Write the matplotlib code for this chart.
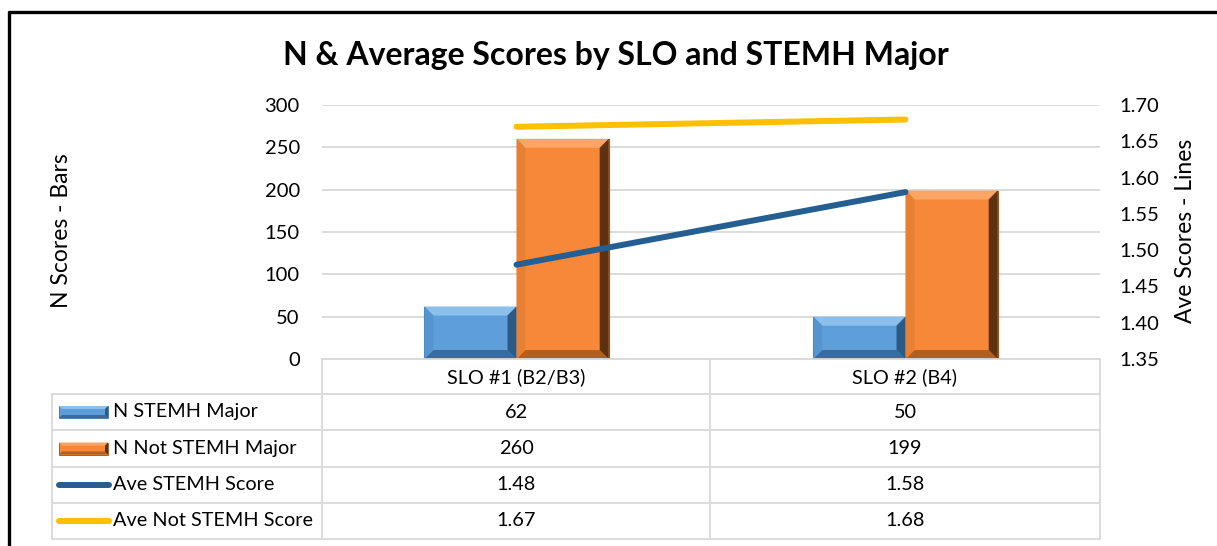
import matplotlib
matplotlib.use("Agg")
import matplotlib.pyplot as plt
from matplotlib.patches import Polygon
from matplotlib.lines import Line2D
import numpy as np

# ---------------- data ----------------
categories = ["SLO #1 (B2/B3)", "SLO #2 (B4)"]
n_stemh = [62, 50]
n_not_stemh = [260, 199]
ave_stemh = [1.48, 1.58]
ave_not_stemh = [1.67, 1.68]
series_names = ["N STEMH Major", "N Not STEMH Major", "Ave STEMH Score", "Ave Not STEMH Score"]
table_values = [["62", "50"], ["260", "199"], ["1.48", "1.58"], ["1.67", "1.68"]]
left_ticks = [0, 50, 100, 150, 200, 250, 300]
right_ticks = [1.35, 1.40, 1.45, 1.50, 1.55, 1.60, 1.65, 1.70]
title = "N & Average Scores by SLO and STEMH Major"
left_label = "N Scores - Bars"
right_label = "Ave Scores - Lines"

FONT = ["Lato", "DejaVu Sans"]
plt.rcParams['font.family'] = FONT

W, H = 1217, 546
fig = plt.figure(figsize=(W / 100, H / 100), dpi=100)


def fx(px):
    return px / W


def fy(py):
    return 1 - py / H


TICK_FS = 14.5
TAB_FS = 14.3

X_L, X_R, Y_B, Y_T = 322, 1100, 359, 105
ax = fig.add_axes([fx(X_L), fy(Y_B), fx(X_R) - fx(X_L), fy(Y_T) - fy(Y_B)])
ax.set_xlim(-0.5, len(categories) - 0.5)
ax.set_ylim(0, 300)
ax.set_yticks(left_ticks)
ax.set_xticks([])
for s in ax.spines.values():
    s.set_visible(False)
ax.tick_params(axis='y', length=0, pad=16, labelsize=TICK_FS, colors='black')
ax.grid(axis='y', color='#D9D9D9', linewidth=1.3)
ax.set_axisbelow(True)

x = np.arange(len(categories))
bw = 0.237

blue = dict(base='#5E9FDA', top='#8DBFEC', left='#5594CF', right='#2C5A86', bottom='#3A6B9C', edge='#41719C')
orange = dict(base='#F7883A', top='#FBA463', left='#E88034', right='#5E3210', bottom='#B3601F', edge='#9A5018')


def bevel_bar(ax, xc, h, col):
    bars = ax.bar([xc], [h], width=bw, color=col['base'], edgecolor=col['edge'], linewidth=0.8, zorder=2)
    fig.canvas.draw()
    X0, Y0 = ax.transData.transform((xc - bw / 2, 0))
    X1, Y1 = ax.transData.transform((xc + bw / 2, h))
    d = 9
    inv = ax.transData.inverted()
    polys = {
        'top': [(X0, Y1), (X1, Y1), (X1 - d, Y1 - d), (X0 + d, Y1 - d)],
        'bottom': [(X0, Y0), (X1, Y0), (X1 - d, Y0 + d), (X0 + d, Y0 + d)],
        'left': [(X0, Y0), (X0, Y1), (X0 + d, Y1 - d), (X0 + d, Y0 + d)],
        'right': [(X1, Y0), (X1, Y1), (X1 - d, Y1 - d), (X1 - d, Y0 + d)],
    }
    for k, pts in polys.items():
        dp = inv.transform(np.array(pts))
        ax.add_patch(Polygon(dp, closed=True, facecolor=col[k], edgecolor='none', zorder=3))
    return bars


for i in range(len(categories)):
    bevel_bar(ax, x[i] - bw / 2, n_stemh[i], blue)
    bevel_bar(ax, x[i] + bw / 2, n_not_stemh[i], orange)

ax2 = ax.twinx()
ax2.set_ylim(1.35, 1.70)
ax2.set_yticks(right_ticks)
ax2.set_yticklabels([f"{t:.2f}" for t in right_ticks])
for s in ax2.spines.values():
    s.set_visible(False)
ax2.tick_params(axis='y', length=0, pad=14, labelsize=TICK_FS, colors='black')
ax2.plot(x, ave_stemh, color='#255E91', linewidth=4.3, solid_capstyle='round', zorder=5)
ax2.plot(x, ave_not_stemh, color='#FFC000', linewidth=4.3, solid_capstyle='round', zorder=5)

# labels
fig.text(fx(616), fy(55), title, ha='center', va='center', fontsize=23, fontweight='bold')
fig.text(fx(62), fy(231), left_label, ha='center', va='center', rotation=90, fontsize=16.5)
fig.text(fx(1185), fy(231), right_label, ha='center', va='center', rotation=90, fontsize=16.5)

# ---------------- data table ----------------
gc = '#D9D9D9'
glw = 1.3
T_L, T_M, T_R = 52, 710, 1100
rows_y = [359, 394, 430, 467, 503, 539]


def hline(y, x0, x1):
    fig.add_artist(Line2D([fx(x0), fx(x1)], [fy(y), fy(y)], color=gc, lw=glw))


def vline(xp, y0, y1):
    fig.add_artist(Line2D([fx(xp), fx(xp)], [fy(y0), fy(y1)], color=gc, lw=glw))


hline(rows_y[0], X_L, T_R)
for y in rows_y[1:]:
    hline(y, T_L, T_R)
vline(X_L, rows_y[0], rows_y[-1])
vline(T_L, rows_y[1], rows_y[-1])
vline(T_M, rows_y[0], rows_y[-1])
vline(T_R, rows_y[0], rows_y[-1])

col_centers = [(X_L + T_M) / 2, (T_M + T_R) / 2]
hy = (rows_y[0] + rows_y[1]) / 2 + 1
for c, name in zip(col_centers, categories):
    fig.text(fx(c), fy(hy), name, ha='center', va='center', fontsize=TAB_FS)

for r, (name, vals) in enumerate(zip(series_names, table_values)):
    yc = (rows_y[r + 1] + rows_y[r + 2]) / 2
    for c, v in zip(col_centers, vals):
        fig.text(fx(c), fy(yc), v, ha='center', va='center', fontsize=TAB_FS)
    fig.text(fx(113), fy(yc), name, ha='left', va='center', fontsize=TAB_FS)

# legend keys
sw_axes = fig.add_axes([0, 0, 1, 1], facecolor='none')
sw_axes.set_xlim(0, W)
sw_axes.set_ylim(H, 0)
sw_axes.axis('off')


def swatch(yc, col):
    X0, X1 = 59, 108
    Y0, Y1 = yc - 6, yc + 6
    d = 3
    sw_axes.add_patch(Polygon([(X0, Y0), (X1, Y0), (X1, Y1), (X0, Y1)], facecolor=col['base'], edgecolor=col['edge'], lw=0.6))
    sw_axes.add_patch(Polygon([(X0, Y0), (X1, Y0), (X1 - d, Y0 + d), (X0 + d, Y0 + d)], facecolor=col['top'], edgecolor='none'))
    sw_axes.add_patch(Polygon([(X0, Y1), (X1, Y1), (X1 - d, Y1 - d), (X0 + d, Y1 - d)], facecolor=col['bottom'], edgecolor='none'))
    sw_axes.add_patch(Polygon([(X1, Y0), (X1, Y1), (X1 - d, Y1 - d), (X1 - d, Y0 + d)], facecolor=col['right'], edgecolor='none'))


ycs = [(rows_y[i + 1] + rows_y[i + 2]) / 2 for i in range(4)]
swatch(ycs[0], blue)
swatch(ycs[1], orange)
sw_axes.plot([59, 109], [ycs[2], ycs[2]], color='#255E91', lw=4.3, solid_capstyle='round')
sw_axes.plot([59, 109], [ycs[3], ycs[3]], color='#FFC000', lw=4.3, solid_capstyle='round')

# outer border (partial frame as in reference)
sw_axes.plot([8, W], [11.5, 11.5], color='black', lw=2.4, solid_capstyle='butt')
sw_axes.plot([8.5, 8.5], [10.5, H], color='black', lw=2.4, solid_capstyle='butt')

fig.savefig("out.png", dpi=100)
